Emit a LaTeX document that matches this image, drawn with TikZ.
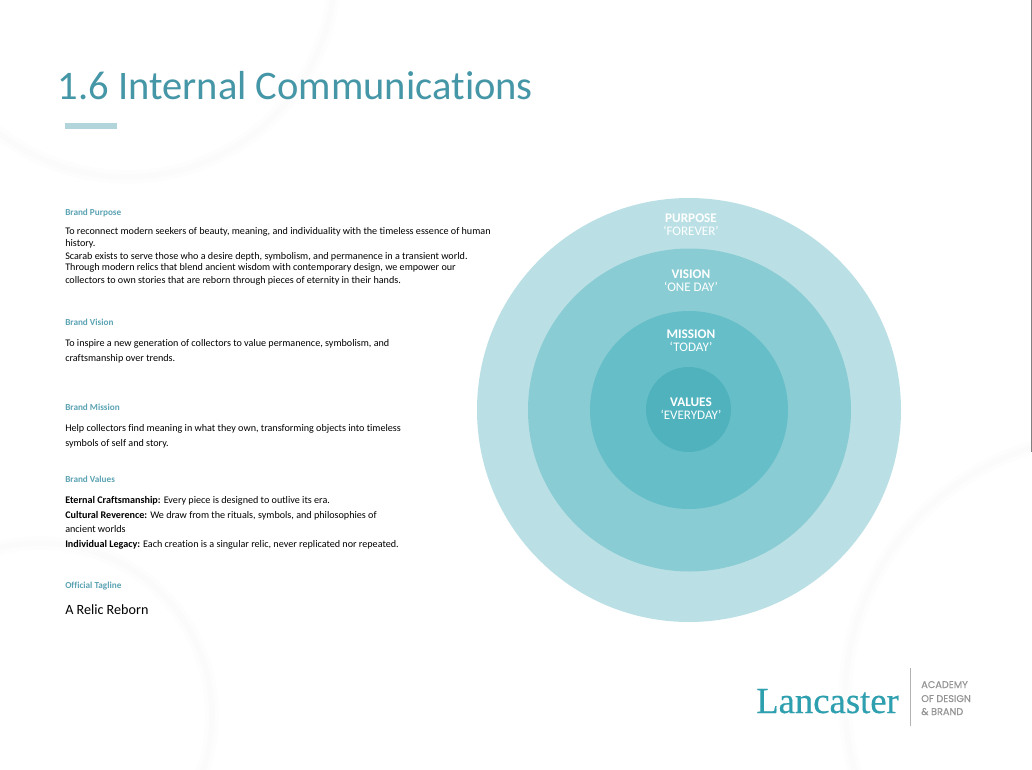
\documentclass[tikz,border=0pt]{standalone}
\usepackage{fontspec}
\setmainfont[Ligatures=NoCommon]{Carlito}
\newfontfamily\logofont[FakeBold=0.4]{Liberation Serif}
\newfontfamily\smallfont[FakeBold=0.3]{Poppins}
\usetikzlibrary{positioning}

\definecolor{titleteal}{HTML}{4596A6}
\definecolor{headteal}{HTML}{5BA3B3}
\definecolor{barteal}{HTML}{B2D5DC}
\definecolor{logoteal}{HTML}{2E9FAE}
\definecolor{ringa}{HTML}{BAE0E5}
\definecolor{ringb}{HTML}{8ACCD3}
\definecolor{ringc}{HTML}{65BEC8}
\definecolor{ringd}{HTML}{4FB2BD}
\definecolor{faint}{HTML}{FDFDFD}
\definecolor{fainter}{HTML}{FBFBFB}

\begin{document}
\begin{tikzpicture}[
						x=0.75pt, y=-0.75pt,
						ring/.style = {circle, minimum size=#1*0.75pt, inner sep=0pt},
						arcwide/.style = {draw=faint, line width=10pt},
						arcthin/.style = {draw=fainter, line width=4pt},
						head/.style = {anchor=base west, inner sep=0pt, text=headteal, font=\fontsize{6.9}{8}\selectfont\bfseries},
						body/.style = {anchor=base west, inner sep=0pt, text=black, font=\fontsize{7.6}{9}\selectfont},
						ringtop/.style = {inner sep=0pt, text=white, font=\fontsize{9.9}{11}\selectfont\bfseries},
						ringsub/.style = {inner sep=0pt, text=white, font=\fontsize{9.8}{11}\selectfont},
						grey/.style = {anchor=base west, inner sep=0pt, text=black!42, font=\fontsize{7.3}{8}\smallfont}
					]
\useasboundingbox (0,0) rectangle (1032,770);
\fill[white] (0,0) rectangle (1032,770);

% faint arcs behind everything
\begin{scope}
\clip (0,0) rectangle (1032,770);
\draw[arcwide] (127,-31) circle (208);
\draw[arcthin] (127,-31) circle (208);
\draw[arcwide] (40,715) circle (172);
\draw[arcthin] (40,715) circle (172);
\draw[arcwide] (1109,700) circle (264);
\draw[arcthin] (1109,700) circle (264);
\end{scope}
\fill[black!50] (1031,0) rectangle (1032,452);

% title
\node[anchor=base west, inner sep=0pt, text=titleteal, font=\fontsize{30.4}{32}\selectfont] (title) at (57.5,100) {1.6 Internal Communications};
\fill[barteal] (65,123) rectangle (117,129);

% rings
\node[ring=424, fill=ringa] (purpose) at (689,410) {};
\node[ring=323, fill=ringb] (vision) at (689.5,410) {};
\node[ring=198, fill=ringc] (mission) at (689,410) {};
\node[ring=85, fill=ringd] (values) at (688.5,409.5) {};

\node[ringtop] (t1) at (691,218) {PURPOSE};
\node[ringsub] (s1) at (691,231) {‘FOREVER’};
\node[ringtop] (t2) at (691,274) {VISION};
\node[ringsub] (s2) at (691,287) {‘ONE DAY’};
\node[ringtop] (t3) at (691,334) {MISSION};
\node[ringsub] (s3) at (691,347) {‘TODAY’};
\node[ringtop] (t4) at (691,402) {VALUES};
\node[ringsub] (s4) at (691,415) {‘EVERYDAY’};

% left column
\node[head] (h1) at (65,215) {Brand Purpose};
\node[body] (p1) at (65,234) {To reconnect modern seekers of beauty, meaning, and individuality with the timeless essence of human};
\node[body] (p2) at (65,247) {history.};
\node[body] (p3) at (65,259) {Scarab exists to serve those who a desire depth, symbolism, and permanence in a transient world.};
\node[body] (p4) at (65,271) {Through modern relics that blend ancient wisdom with contemporary design, we empower our};
\node[body] (p5) at (65,283) {collectors to own stories that are reborn through pieces of eternity in their hands.};

\node[head] (h2) at (65,325) {Brand Vision};
\node[body] (v1) at (65,346) {To inspire a new generation of collectors to value permanence, symbolism, and};
\node[body] (v2) at (65,361) {craftsmanship over trends.};

\node[head] (h3) at (65,410) {Brand Mission};
\node[body] (m1) at (65,431) {Help collectors find meaning in what they own, transforming objects into timeless};
\node[body] (m2) at (65,446) {symbols of self and story.};

\node[head] (h4) at (65,482) {Brand Values};
\node[body] (b1) at (65,503) {\textbf{Eternal Craftsmanship:} Every piece is designed to outlive its era.};
\node[body] (b2) at (65,518) {\textbf{Cultural Reverence:} We draw from the rituals, symbols, and philosophies of};
\node[body] (b3) at (65,532) {ancient worlds};
\node[body] (b4) at (65,547) {\textbf{Individual Legacy:} Each creation is a singular relic, never replicated nor repeated.};

\node[head] (h5) at (65,588) {Official Tagline};
\node[anchor=base west, inner sep=0pt, text=black, font=\fontsize{10.6}{12}\selectfont] (tag) at (65,614) {A Relic Reborn};

% logo
\node[anchor=base west, inner sep=0pt, text=logoteal, font=\fontsize{27.5}{30}\logofont] (logo) at (756,713) {Lancaster};
\draw[black!30] (910.5,668) -- (910.5,726);
\node[grey] (g1) at (921,688) {ACADEMY};
\node[grey] (g2) at (921,702) {OF DESIGN};
\node[grey] (g3) at (921,715) {\& BRAND};
\end{tikzpicture}
\end{document}
